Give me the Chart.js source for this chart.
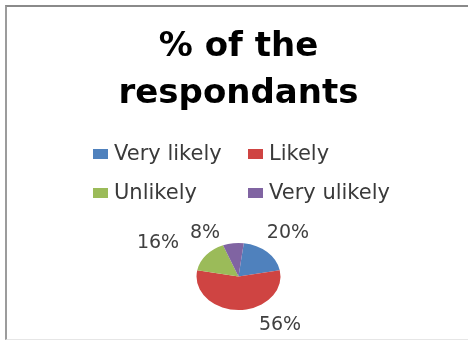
<!DOCTYPE html>
<html>
<head>
<meta charset="utf-8">
<script src="https://cdn.jsdelivr.net/npm/chart.js@4/dist/chart.umd.min.js"></script>
<style>
  html, body { margin: 0; padding: 0; background: #ffffff; }
  #wrap { position: relative; width: 468px; height: 341px; overflow: hidden; }
  #wrap canvas { position: absolute; left: 0; top: 0; }
  #frame {
    position: absolute; left: 5px; top: 5px; right: -10px; bottom: 1px;
    border-top: 2px solid #8a8a8a; border-left: 2px solid #9c9c9c;
    border-bottom: 1px solid #e6e6e6; pointer-events: none;
  }
</style>
</head>
<body>
<div id="wrap">
  <canvas id="chart" width="468" height="341"></canvas>
  <div id="frame"></div>
</div>
<script>
// Survey answers and their share of respondents (%)
const categories = ['Very likely', 'Likely', 'Unlikely', 'Very ulikely'];
const shares = [20, 56, 16, 8];
const sliceColors = ['#4f81bd', '#cf4442', '#9bbb59', '#8064a2'];
const titleLines = ['% of the', 'respondants'];

const FONT = "'DejaVu Sans', sans-serif";

// Flattens the pie into an ellipse, as a tilted pie
const tilt = {
  id: 'tilt',
  beforeDatasetsDraw(chart, args, opts) {
    const arc = chart.getDatasetMeta(0).data[0];
    const ctx = chart.ctx;
    ctx.save();
    ctx.translate(arc.x, arc.y);
    ctx.scale(1, opts.ratio);
    ctx.translate(-arc.x, -arc.y);
  },
  afterDatasetsDraw(chart) {
    chart.ctx.restore();
  }
};

// Two-column legend with aligned columns
const gridLegend = {
  id: 'gridLegend',
  afterDraw(chart, args, o) {
    const ctx = chart.ctx;
    const labels = chart.data.labels;
    const colors = chart.data.datasets[0].backgroundColor;
    ctx.save();
    ctx.font = o.font;
    ctx.textBaseline = 'middle';
    ctx.textAlign = 'left';
    labels.forEach((lab, i) => {
      const col = i % 2, row = Math.floor(i / 2);
      const x = o.left + col * o.colGap;
      const y = o.top + row * o.rowGap;
      ctx.fillStyle = colors[i];
      ctx.fillRect(x, y - o.boxH / 2, o.boxW, o.boxH);
      ctx.fillStyle = o.color;
      ctx.fillText(lab, x + o.boxW + o.textGap, y + 1);
    });
    ctx.restore();
  }
};

// Percentage labels placed around the slices
const sliceLabels = {
  id: 'sliceLabels',
  afterDraw(chart, args, o) {
    const ctx = chart.ctx;
    const ratio = chart.options.plugins.tilt.ratio;
    const values = chart.data.datasets[0].data;
    ctx.save();
    ctx.font = o.font;
    ctx.fillStyle = o.color;
    ctx.textAlign = 'center';
    ctx.textBaseline = 'middle';
    chart.getDatasetMeta(0).data.forEach((arc, i) => {
      const p = arc.getProps(['x', 'y', 'startAngle', 'endAngle', 'outerRadius'], true);
      const [shiftDeg, k] = o.placement[i];
      const a = (p.startAngle + p.endAngle) / 2 + shiftDeg * Math.PI / 180;
      const r = p.outerRadius * k;
      const tx = p.x + Math.cos(a) * r;
      const ty = p.y + Math.sin(a) * r * ratio;
      ctx.fillText(values[i] + '%', tx, ty);
    });
    ctx.restore();
  }
};

new Chart(document.getElementById('chart'), {
  type: 'pie',
  data: {
    labels: categories,
    datasets: [{
      data: shares,
      backgroundColor: sliceColors,
      borderWidth: 0,
      radius: 42
    }]
  },
  options: {
    responsive: false,
    animation: false,
    rotation: 7.2,
    layout: { padding: { top: 0, left: 9, right: 0, bottom: 0 } },
    plugins: {
      legend: { display: false },
      tooltip: { enabled: false },
      title: {
        display: true,
        text: titleLines,
        color: '#000000',
        font: { family: FONT, size: 34, weight: 'bold', lineHeight: 1.382 },
        padding: { top: 23.5, bottom: 94.5 }
      },
      tilt: { ratio: 0.8 },
      gridLegend: {
        font: "21px " + FONT,
        color: '#3a3a3a',
        left: 93, colGap: 155, top: 154, rowGap: 39,
        boxW: 15, boxH: 10, textGap: 6
      },
      sliceLabels: {
        font: "19px " + FONT,
        color: '#404040',
        placement: [[-0.9, 1.75], [-34.4, 1.75], [-12.1, 2.16], [-24.4, 1.52]]
      }
    }
  },
  plugins: [tilt, gridLegend, sliceLabels]
});
</script>
</body>
</html>
